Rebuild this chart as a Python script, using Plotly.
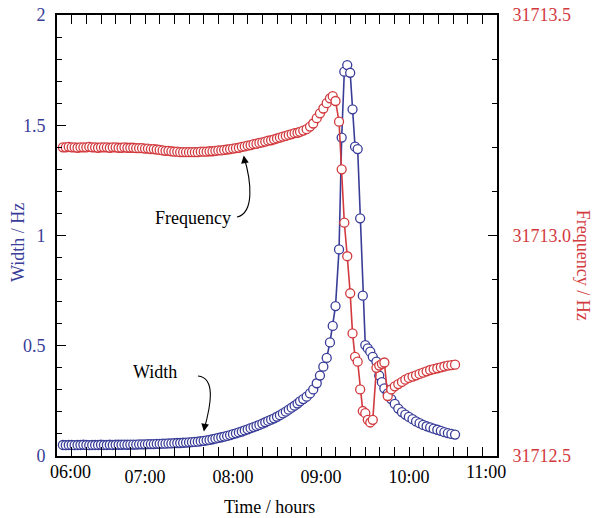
import plotly.graph_objects as go

# ---- data (time in minutes after 06:00) ----
minutes = [4, 6, 8, 10, 12, 14, 16, 18, 20, 22, 24, 26, 28, 30, 32, 34, 36, 38, 40, 42,
           44, 46, 48, 50, 52, 54, 56, 58, 60, 62, 64, 66, 68, 70, 72, 74, 76, 78, 80, 82,
           84, 86, 88, 90, 92, 94, 96, 98, 100, 102, 104, 106, 108, 110, 112, 114, 116, 118, 120, 122,
           124, 126, 128, 130, 132, 134, 136, 138, 140, 142, 144, 146, 148, 150, 152, 154, 156, 158, 160, 162,
           164,
           165.7, 167.9, 170.2, 172.5, 174.7, 177.1, 179.3, 181.6, 183.9, 186.1, 188.0, 189.9, 192.3, 194.1,
           195.9, 197.9, 199.9, 201.5, 203.2, 205.0, 206.7, 208.5, 210.2, 211.9, 213.6, 215.3, 217.8, 219.7,
           221.5, 223.2,
           225.5, 227.9, 230.3, 232.7, 235.2, 237.5, 239.9, 242.4, 244.8, 247.2, 249.6, 252.0, 254.4, 256.8,
           259.3, 261.7, 264.1, 266.5, 268.9, 271.4]

width_hz = [0.050, 0.049, 0.050, 0.050, 0.049, 0.050, 0.050, 0.051, 0.050, 0.049, 0.050, 0.050, 0.050, 0.051, 0.050, 0.050, 0.051, 0.050, 0.051, 0.051,
            0.051, 0.052, 0.051, 0.052, 0.052, 0.052, 0.053, 0.053, 0.053, 0.054, 0.054, 0.054, 0.055, 0.055, 0.056, 0.056, 0.057, 0.057, 0.058, 0.059,
            0.059, 0.060, 0.061, 0.062, 0.063, 0.064, 0.065, 0.067, 0.069, 0.071, 0.073, 0.076, 0.079, 0.082, 0.085, 0.088, 0.091, 0.095, 0.099, 0.103,
            0.107, 0.111, 0.116, 0.121, 0.126, 0.131, 0.136, 0.141, 0.147, 0.153, 0.159, 0.165, 0.171, 0.178, 0.185, 0.193, 0.201, 0.210, 0.219, 0.228,
            0.238,
            0.248, 0.258, 0.269, 0.284, 0.302, 0.330, 0.365, 0.405, 0.445, 0.515, 0.590, 0.680, 0.937, 1.444,
            1.743, 1.773, 1.738, 1.572, 1.403, 1.392, 1.078, 0.727, 0.503, 0.488, 0.473, 0.450, 0.428, 0.365,
            0.335, 0.307,
            0.284, 0.258, 0.236, 0.215, 0.199, 0.188, 0.177, 0.167, 0.157, 0.149, 0.141, 0.135, 0.130, 0.124,
            0.119, 0.114, 0.108, 0.104, 0.100, 0.097]

freq_hz = [31713.200, 31713.200, 31713.201, 31713.200, 31713.200, 31713.199, 31713.200, 31713.200, 31713.200, 31713.201,
           31713.200, 31713.200, 31713.199, 31713.200, 31713.200, 31713.200, 31713.199, 31713.200, 31713.200, 31713.199,
           31713.199, 31713.200, 31713.199, 31713.199, 31713.199, 31713.198, 31713.198, 31713.198, 31713.197, 31713.197,
           31713.196, 31713.196, 31713.195, 31713.194, 31713.193, 31713.192, 31713.192, 31713.191, 31713.190, 31713.190,
           31713.189, 31713.189, 31713.189, 31713.189, 31713.189, 31713.189, 31713.189, 31713.190, 31713.190, 31713.190,
           31713.191, 31713.191, 31713.192, 31713.193, 31713.193, 31713.194, 31713.195, 31713.196, 31713.197, 31713.198,
           31713.199, 31713.201, 31713.202, 31713.204, 31713.205, 31713.207, 31713.208, 31713.210, 31713.211, 31713.213,
           31713.215, 31713.216, 31713.218, 31713.220, 31713.222, 31713.224, 31713.226, 31713.228, 31713.230, 31713.232,
           31713.233,
           31713.235, 31713.238, 31713.241, 31713.247, 31713.254, 31713.266, 31713.277, 31713.288, 31713.300, 31713.311,
           31713.316, 31713.305, 31713.258, 31713.150,
           31713.029, 31712.953, 31712.869, 31712.778, 31712.725, 31712.714, 31712.651, 31712.602, 31712.597, 31712.582,
           31712.576, 31712.582, 31712.700, 31712.705,
           31712.709, 31712.712,
           31712.636, 31712.651, 31712.658, 31712.663, 31712.668, 31712.673, 31712.677, 31712.680, 31712.683, 31712.686,
           31712.689, 31712.692, 31712.695, 31712.697, 31712.699, 31712.701, 31712.703, 31712.705, 31712.706, 31712.707]

assert len(minutes) == len(width_hz) == len(freq_hz)

hour_ticks = [6, 7, 8, 9, 10, 11]
hour_labels = ["", "07:00", "08:00", "09:00", "10:00", ""]

BLUE = "#393d98"
RED = "#d23a3e"
FONT = "Liberation Serif"
FS = 18

hours = [6 + m / 60.0 for m in minutes]

fig = go.Figure()
fig.add_trace(go.Scatter(
    x=hours, y=freq_hz, yaxis="y2", mode="lines+markers",
    line=dict(color=RED, width=1.6),
    marker=dict(symbol="circle", size=9, color="white", line=dict(color=RED, width=1.3)),
    showlegend=False, hoverinfo="skip"))
fig.add_trace(go.Scatter(
    x=hours, y=width_hz, yaxis="y", mode="lines+markers",
    line=dict(color=BLUE, width=1.6),
    marker=dict(symbol="circle", size=9, color="white", line=dict(color=BLUE, width=1.3)),
    showlegend=False, hoverinfo="skip"))

fig.update_layout(
    width=598, height=518,
    margin=dict(l=57, r=101, t=15, b=62, autoexpand=False),
    paper_bgcolor="white", plot_bgcolor="white",
    font=dict(family=FONT, size=FS, color="black"),
    xaxis=dict(
        range=[6, 11], tickvals=hour_ticks, ticktext=hour_labels, automargin=False,
        ticks="inside", ticklen=9, tickwidth=1.3, tickcolor="black",
        minor=dict(dtick=1 / 6, tick0=6, ticks="inside", ticklen=5, tickwidth=1.2, tickcolor="black"),
        showline=True, linecolor="black", linewidth=1.6, mirror="allticks",
        showgrid=False, zeroline=False, ticklabelstandoff=4, ticklabeloverflow="allow",
        tickfont=dict(family=FONT, size=FS, color="black"),
    ),
    yaxis=dict(
        range=[0, 2], tickvals=[0, 0.5, 1, 1.5, 2], ticktext=["0", "0.5", "1", "1.5", "2"],
        automargin=False,
        ticks="inside", ticklen=9, tickwidth=1.3, tickcolor="black",
        minor=dict(dtick=0.1, tick0=0, ticks="inside", ticklen=5, tickwidth=1.2, tickcolor="black"),
        showline=True, linecolor="black", linewidth=1.6,
        showgrid=False, zeroline=False, ticklabelstandoff=6, ticklabeloverflow="allow",
        tickfont=dict(family=FONT, size=FS, color=BLUE),
    ),
    yaxis2=dict(
        range=[31712.5, 31713.5], overlaying="y", side="right", automargin=False,
        tickvals=[31712.5, 31713.0, 31713.5], tickformat=".1f",
        ticks="inside", ticklen=9, tickwidth=1.3, tickcolor="black",
        minor=dict(dtick=0.1, tick0=31712.5, ticks="inside", ticklen=5, tickwidth=1.2, tickcolor="black"),
        showline=True, linecolor="black", linewidth=1.6,
        showgrid=False, zeroline=False, ticklabelstandoff=10, ticklabeloverflow="allow",
        tickfont=dict(family=FONT, size=FS, color=RED),
    ),
)

# curved annotation arrows (data coordinates: hours / width axis)
fig.add_shape(type="path", xref="x", yref="y",
              path="M 8.0455,1.0839 C 8.25,1.1020 8.2045,1.2517 8.125,1.3560",
              line=dict(color="black", width=1.1))
fig.add_shape(type="path", xref="x", yref="y",
              path="M 7.6023,0.3628 C 7.8068,0.3537 7.75,0.2313 7.6705,0.1179",
              line=dict(color="black", width=1.1))

annotations = [
    dict(x=8.1216, y=1.3628, xref="x", yref="y", ax=1.5, ay=9, text="", showarrow=True,
         arrowhead=2, arrowsize=1.4, arrowwidth=1.1, arrowcolor="black"),
    dict(x=7.6690, y=0.1111, xref="x", yref="y", ax=1.5, ay=-9, text="", showarrow=True,
         arrowhead=2, arrowsize=1.4, arrowwidth=1.1, arrowcolor="black"),
    dict(x=8.0034, y=1.0794, xref="x", yref="y", text="Frequency", showarrow=False,
         xanchor="right", yanchor="middle", font=dict(family=FONT, size=FS, color="black")),
    dict(x=7.3898, y=0.3823, xref="x", yref="y", text="Width", showarrow=False,
         xanchor="right", yanchor="middle", font=dict(family=FONT, size=FS, color="black")),
    # edge tick labels
    dict(x=(70 - 57) / 440, y=-0.0363, xref="paper", yref="paper", text="06:00", showarrow=False,
         xanchor="center", yanchor="middle", font=dict(family=FONT, size=FS, color="black")),
    dict(x=(486 - 57) / 440, y=-0.0363, xref="paper", yref="paper", text="11:00", showarrow=False,
         xanchor="center", yanchor="middle", font=dict(family=FONT, size=FS, color="black")),
    # axis titles
    dict(x=0.484, y=-0.1156, xref="paper", yref="paper", text="Time / hours", showarrow=False,
         xanchor="center", yanchor="middle", font=dict(family=FONT, size=FS, color="black")),
    dict(x=-0.0886, y=0.483, xref="paper", yref="paper", text="Width / Hz", showarrow=False,
         textangle=-90, xanchor="center", yanchor="middle", font=dict(family=FONT, size=FS, color=BLUE)),
    dict(x=1.196, y=0.433, xref="paper", yref="paper", text="Frequency / Hz", showarrow=False,
         textangle=90, xanchor="center", yanchor="middle", font=dict(family=FONT, size=FS, color=RED)),
]
fig.update_layout(annotations=annotations)

# remove the browser's default 8px page margin so the 598x518 figure fills the window exactly
fig.write_html("out.html", config={"displayModeBar": False},
               post_script="document.body.style.margin='0';")
